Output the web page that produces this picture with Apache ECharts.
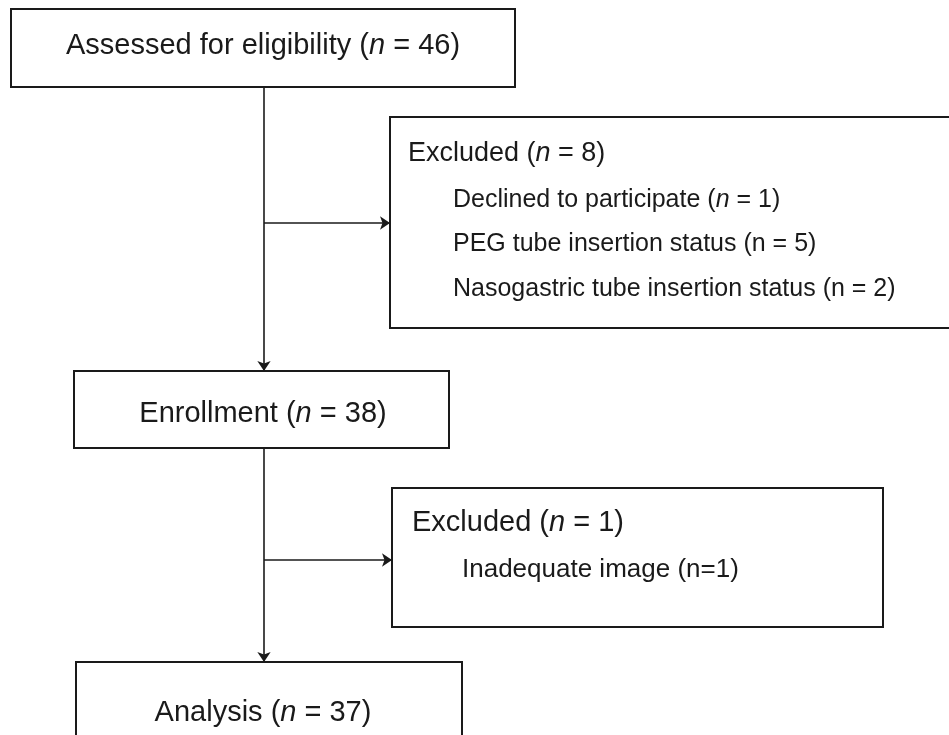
<!DOCTYPE html>
<html>
<head>
<meta charset="utf-8">
<script src="https://cdn.jsdelivr.net/npm/echarts@6/dist/echarts.min.js"></script>
<style>
  html, body { margin: 0; padding: 0; background: #fff; }
  #chart { width: 949px; height: 735px; }
</style>
</head>
<body>
<div id="chart"></div>
<script>
// flow counts
const stageLabels = ['Assessed for eligibility', 'Enrollment', 'Analysis'];
const stageCounts = [46, 38, 37];
const excludedCounts = [8, 1];
const reasonLabels = [
  ['Declined to participate', 'PEG tube insertion status', 'Nasogastric tube insertion status'],
  ['Inadequate image']
];
const reasonCounts = [[1, 5, 2], [1]];
const reasonFormats = [['{i|n} = ', 'n = ', 'n = '], ['n=']];

// layout in page pixels (axes below map 1:1)
const stageBoxes = [[11, 9, 515, 87], [74, 371, 449, 448], [76, 662, 462, 760]];
const stageTextX = 263;
const stageBaselines = [55, 423, 722];
const excludedBoxes = [[390, 117, 960, 328], [392, 488, 883, 627]];
const excludedHeads = [[408, 162, 27], [412, 532, 29]];
const reasonPos = [[453, [208, 252, 297], 25], [462, [578], 26]];
const connectors = [
  [[264, 87], [264, 371]],
  [[264, 223], [390, 223]],
  [[264, 448], [264, 662]],
  [[264, 560], [392, 560]]
];

const FONT = '"Liberation Sans", Arial, Helvetica, sans-serif';
const INK = '#1a1a1a';
const HEAD = 29;

function mid(baseline, fs) {
  return baseline - 0.31 * fs;
}
function richFor(fs) {
  return { i: { fontStyle: 'italic', fontSize: fs, fontFamily: FONT, fill: INK } };
}

function boxRect(api, b) {
  const p0 = api.coord([b[0], b[1]]);
  const p1 = api.coord([b[2], b[3]]);
  return {
    type: 'rect',
    shape: { x: p0[0], y: p0[1], width: p1[0] - p0[0], height: p1[1] - p0[1] },
    style: { fill: '#fff', stroke: INK, lineWidth: 2 }
  };
}

function renderStage(params, api) {
  const i = params.dataIndex;
  const p = api.coord([stageTextX, mid(stageBaselines[i], HEAD)]);
  return {
    type: 'group',
    children: [
      boxRect(api, stageBoxes[i]),
      {
        type: 'text',
        x: p[0], y: p[1],
        style: {
          text: stageLabels[i] + ' ({i|n} = ' + stageCounts[i] + ')',
          fontSize: HEAD, fontFamily: FONT, fill: INK,
          align: 'center', verticalAlign: 'middle',
          rich: richFor(HEAD)
        }
      }
    ]
  };
}

function renderExcluded(params, api) {
  const i = params.dataIndex;
  const h = excludedHeads[i];
  const hp = api.coord([h[0], mid(h[1], h[2])]);
  const children = [
    boxRect(api, excludedBoxes[i]),
    {
      type: 'text',
      x: hp[0], y: hp[1],
      style: {
        text: 'Excluded ({i|n} = ' + excludedCounts[i] + ')',
        fontSize: h[2], fontFamily: FONT, fill: INK,
        align: 'left', verticalAlign: 'middle',
        rich: richFor(h[2])
      }
    }
  ];
  const r = reasonPos[i];
  reasonLabels[i].forEach((lab, k) => {
    const p = api.coord([r[0], mid(r[1][k], r[2])]);
    children.push({
      type: 'text',
      x: p[0], y: p[1],
      style: {
        text: lab + ' (' + reasonFormats[i][k] + reasonCounts[i][k] + ')',
        fontSize: r[2], fontFamily: FONT, fill: INK,
        align: 'left', verticalAlign: 'middle',
        rich: richFor(r[2])
      }
    });
  });
  return { type: 'group', children: children };
}

const option = {
  animation: false,
  backgroundColor: '#fff',
  grid: { left: 0, right: 0, top: 0, bottom: 0 },
  xAxis: { type: 'value', min: 0, max: 949, show: false },
  yAxis: { type: 'value', min: 0, max: 735, inverse: true, show: false },
  series: [
    {
      type: 'lines',
      coordinateSystem: 'cartesian2d',
      symbol: ['none', 'arrow'],
      symbolSize: [8, 10],
      lineStyle: { color: INK, width: 1.6, opacity: 1 },
      data: connectors.map(c => ({ coords: c })),
      z: 1
    },
    {
      type: 'custom',
      renderItem: renderStage,
      data: stageLabels.map((s, i) => i),
      z: 2
    },
    {
      type: 'custom',
      renderItem: renderExcluded,
      data: excludedCounts.map((s, i) => i),
      z: 2
    }
  ]
};

const myChart = echarts.init(document.getElementById('chart'));
myChart.setOption(option);
</script>
</body>
</html>
